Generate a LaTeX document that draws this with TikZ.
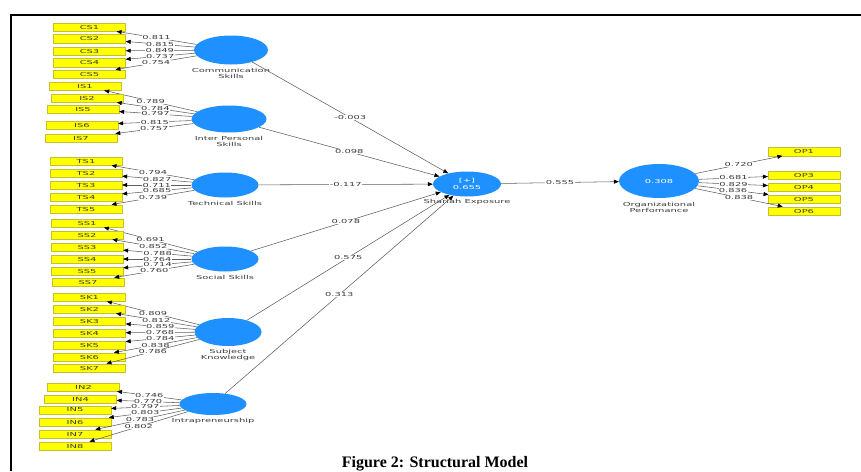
\documentclass[tikz,border=0pt]{standalone}
\usepackage{fontspec}
\setmainfont{Liberation Serif}
\newfontfamily\plsfont[FakeStretch=1.8]{DejaVu Sans}
\usetikzlibrary{shapes.geometric,arrows.meta,positioning}
\definecolor{lvblue}{RGB}{30,144,255}
\definecolor{indyellow}{RGB}{255,255,0}
\definecolor{linegray}{RGB}{95,95,95}
\definecolor{txtgray}{RGB}{60,60,60}
\newcommand{\plssize}{\plsfont\fontsize{5.5}{6.3}\selectfont}
\tikzset{
    lv/.style={ellipse, fill=lvblue, inner sep=0pt, text=white, align=center, font=\plssize},
    ind/.style={rectangle, fill=indyellow, draw=yellow!75!black, line width=0.3pt,
        minimum width=72pt, minimum height=8.5pt, inner sep=0pt, text=txtgray, font=\plssize},
    lvname/.style={inner sep=0pt, align=center, text=txtgray, font=\plssize},
    wt/.style={fill=white, inner sep=0.4pt, text=txtgray, font=\plssize},
    link/.style={draw=linegray, line width=0.55pt,
        -{Triangle[length=5pt,width=4pt,color=black]}},
}
\begin{document}
\begin{tikzpicture}[x=1pt,y=-1pt]
    \useasboundingbox (0,0) rectangle (861,471);
    \draw[line width=2pt] (861,14.5) -- (11,14.5) -- (11,471);

    % latent variables
    \node[lv, minimum width=74pt, minimum height=29pt] (CS) at (231,50) {};
    \node[lv, minimum width=75pt, minimum height=27pt] (IS) at (229,119) {};
    \node[lv, minimum width=67pt, minimum height=25pt] (TS) at (225,185) {};
    \node[lv, minimum width=67pt, minimum height=25pt] (SS) at (225,259) {};
    \node[lv, minimum width=67pt, minimum height=28pt] (SK) at (228,332) {};
    \node[lv, minimum width=67pt, minimum height=22pt] (IN) at (213,404) {};
    \node[lv, minimum width=68pt, minimum height=25pt] (SE) at (467,184) {[+]\\0.655};
    \node[lv, minimum width=80pt, minimum height=34pt] (OP) at (659,181) {0.308};

    \node[lvname, below=3pt of CS] (CSname) {Communication\\Skills};
    \node[lvname, below=3pt of IS] (ISname) {Inter Personal\\Skills};
    \node[lvname, below=3pt of TS] (TSname) {Technical Skills};
    \node[lvname, below=3pt of SS] (SSname) {Social Skills};
    \node[lvname, below=3pt of SK] (SKname) {Subject\\Knowledge};
    \node[lvname, below=3pt of IN] (INname) {Intrapreneurship};
    \node[lvname, below=2pt of SE] (SEname) {Shariah Exposure};
    \node[lvname, below=4pt of OP] (OPname) {Organizational\\Perfomance};

    % measurement model
    \foreach \n/\x/\y/\w in {CS1/89.5/27/0.811, CS2/89.5/38.5/0.815, CS3/89.5/51/0.849,
            CS4/89.5/62.5/0.737, CS5/89.5/74/0.754} {
        \node[ind] (\n) at (\x,\y) {\n};
        \draw[link] (CS) -- (\n) node[wt, pos=0.5] {\w};
    }
    \foreach \n/\x/\y/\w in {IS1/85/86/0.789, IS2/87/98/0.784, IS5/83/109/0.797,
            IS6/82/125/0.815, IS7/81/138/0.757} {
        \node[ind] (\n) at (\x,\y) {\n};
        \draw[link] (IS) -- (\n) node[wt, pos=0.5] {\w};
    }
    \foreach \n/\x/\y/\w in {TS1/86/161/0.794, TS2/86/173/0.827, TS3/86/185/0.711,
            TS4/86/197/0.685, TS5/86/209/0.739} {
        \node[ind] (\n) at (\x,\y) {\n};
        \draw[link] (TS) -- (\n) node[wt, pos=0.5] {\w};
    }
    \foreach \n/\x/\y/\w in {SS1/87/223/0.691, SS2/87/235/0.852, SS3/87/247/0.788,
            SS4/87/259/0.764, SS5/87/271/0.714, SS7/88/282/0.760} {
        \node[ind] (\n) at (\x,\y) {\n};
        \draw[link] (SS) -- (\n) node[wt, pos=0.5] {\w};
    }
    \foreach \n/\x/\y/\w in {SK1/89.5/297/0.809, SK2/89.5/309/0.812, SK3/89.5/321/0.859,
            SK4/89.5/333/0.768, SK5/89.5/345/0.784, SK6/89.5/357/0.838, SK7/89.5/368/0.786} {
        \node[ind] (\n) at (\x,\y) {\n};
        \draw[link] (SK) -- (\n) node[wt, pos=0.5] {\w};
    }
    \foreach \n/\x/\y/\w in {IN2/83.5/387/0.746, IN4/80.5/399/0.770, IN5/75/410/0.797,
            IN6/75/422/0.803, IN7/75/434/0.783, IN8/75/446/0.802} {
        \node[ind] (\n) at (\x,\y) {\n};
        \draw[link] (IN) -- (\n) node[wt, pos=0.5] {\w};
    }
    \foreach \n/\y/\w in {OP1/151.5/0.720, OP3/175/0.681, OP4/187/0.829,
            OP5/199/0.836, OP6/211/0.838} {
        \node[ind] (\n) at (804,\y) {\n};
        \draw[link] (OP) -- (\n) node[wt, pos=0.5] {\w};
    }

    % structural model
    \foreach \s/\b in {CS/-0.003, IS/0.098, TS/-0.117, SS/0.078, SK/0.575, IN/0.313} {
        \draw[link] (\s) -- (SE) node[wt, pos=0.5] {\b};
    }
    \draw[link] (SE) -- (OP) node[wt, pos=0.5] {0.555};

    \node[anchor=base, font=\bfseries\fontsize{16}{18}\selectfont] (caption) at (435,467.5)
        {Figure 2: Structural Model};
\end{tikzpicture}
\end{document}
